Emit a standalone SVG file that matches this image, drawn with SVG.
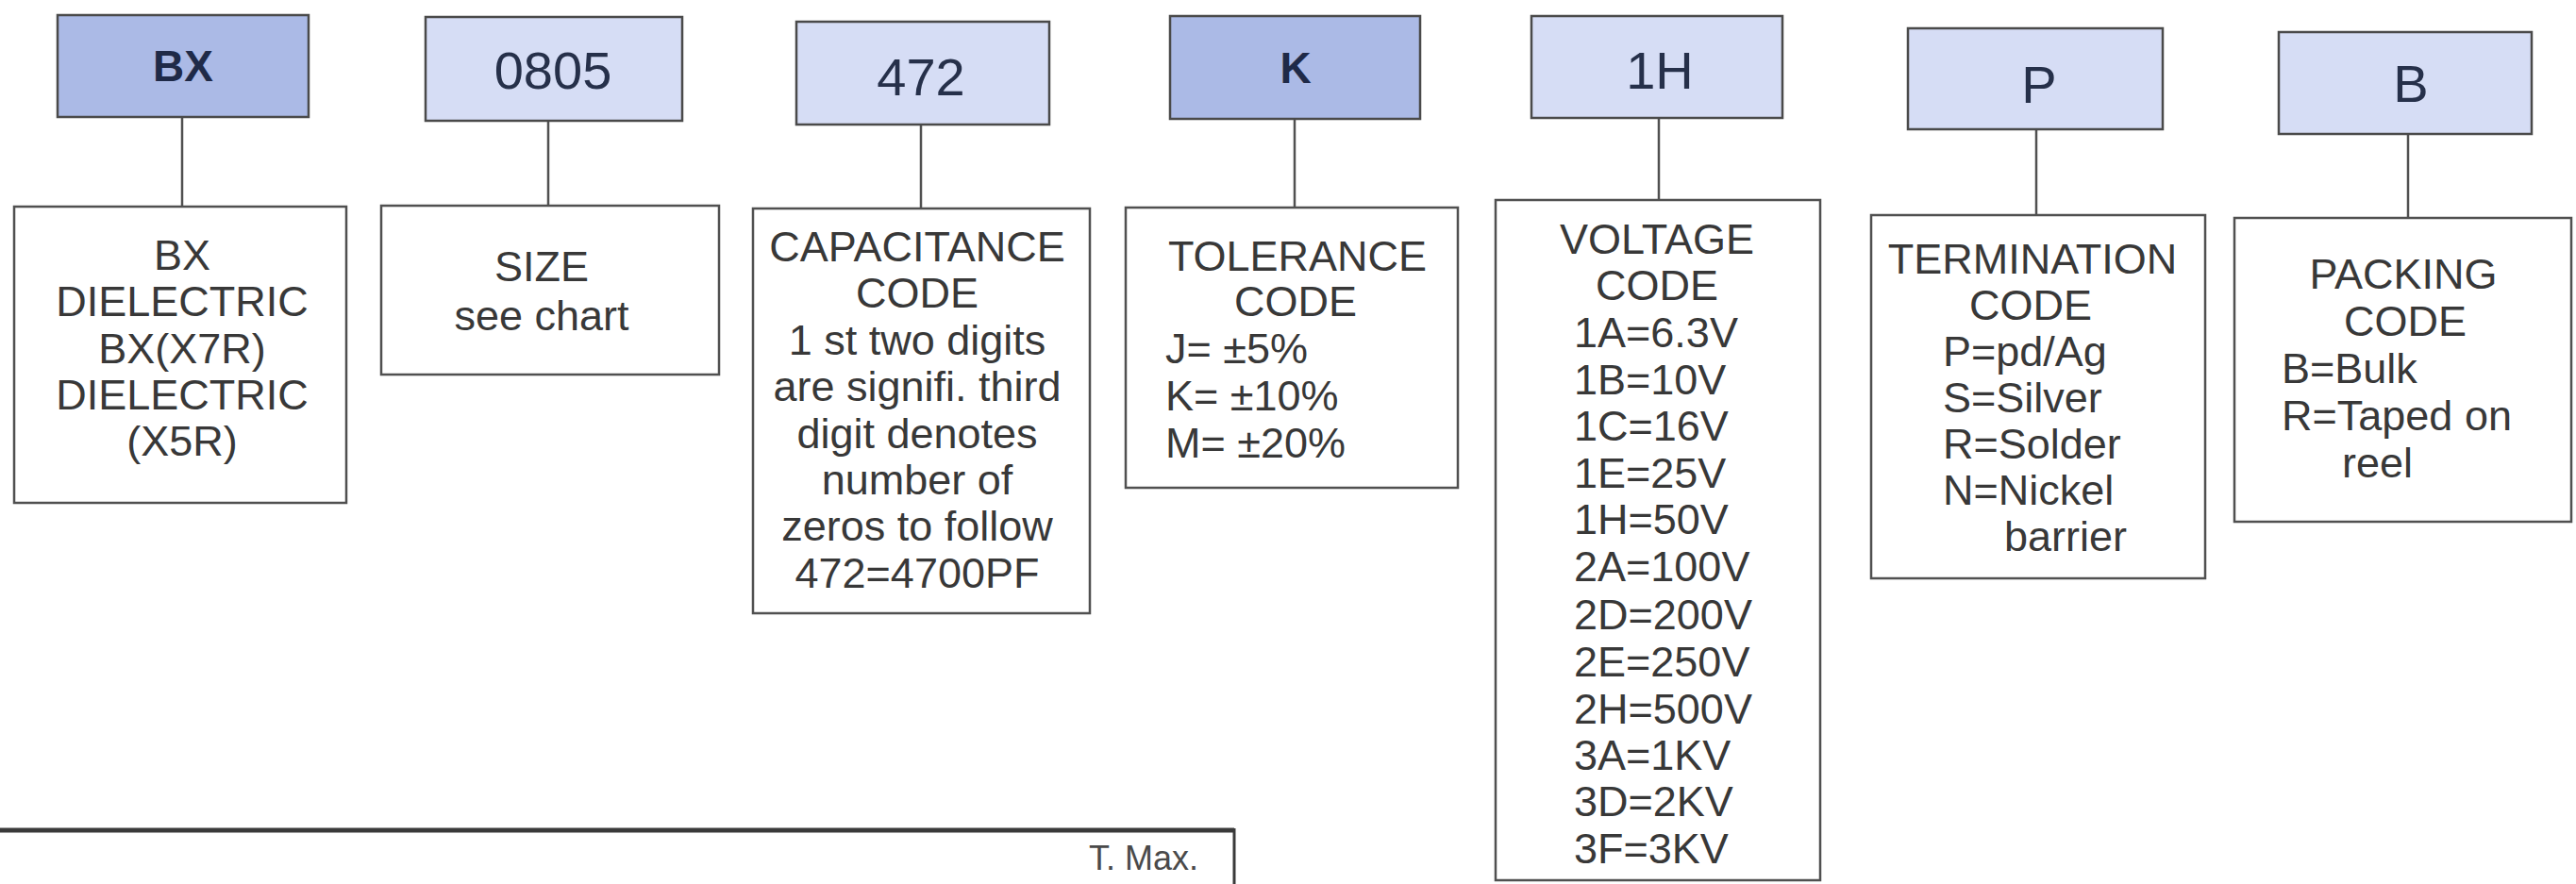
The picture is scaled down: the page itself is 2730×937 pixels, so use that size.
<svg xmlns="http://www.w3.org/2000/svg" width="2730" height="937" viewBox="0 0 2730 937">
<style>
.hdA{fill:#abbae6;stroke:#4a4a4a;stroke-width:2.5}
.hdB{fill:#d6ddf5;stroke:#4a4a4a;stroke-width:2.5}
.det{fill:#ffffff;stroke:#505050;stroke-width:2.5}
.conn line{stroke:#505050;stroke-width:2.5}
.hb{font-family:"Liberation Sans",Arial,sans-serif;font-weight:bold;font-size:46px;fill:#1f2a48;text-anchor:middle}
.hn{font-family:"Liberation Sans",Arial,sans-serif;font-size:56px;fill:#26304a;text-anchor:middle}
.t{font-family:"Liberation Sans",Arial,sans-serif;font-size:45px;fill:#383838}
.c{text-anchor:middle}
.small{font-family:"Liberation Sans",Arial,sans-serif;font-size:36px;fill:#4a4a4a;text-anchor:end}
</style>
<rect width="2730" height="937" fill="#ffffff"/>

<g id="connectors" class="conn">
<line x1="193" y1="124" x2="193" y2="219"/>
<line x1="581" y1="128" x2="581" y2="218"/>
<line x1="976" y1="132" x2="976" y2="221"/>
<line x1="1372" y1="126" x2="1372" y2="220"/>
<line x1="1758" y1="125" x2="1758" y2="212"/>
<line x1="2158" y1="137" x2="2158" y2="228"/>
<line x1="2552" y1="142" x2="2552" y2="231"/>
</g>

<g id="hdr-bx">
<rect class="hdA" x="61" y="16" width="266" height="108"/>
<text class="hb" x="194" y="86">BX</text>
</g>
<g id="det-bx">
<rect class="det" x="15" y="219" width="352" height="314"/>
<text class="t c" x="193" y="286">BX</text>
<text class="t c" x="193" y="335">DIELECTRIC</text>
<text class="t c" x="193" y="385">BX(X7R)</text>
<text class="t c" x="193" y="434">DIELECTRIC</text>
<text class="t c" x="193" y="483">(X5R)</text>
</g>

<g id="hdr-0805">
<rect class="hdB" x="451" y="18" width="272" height="110"/>
<text class="hn" x="586" y="94">0805</text>
</g>
<g id="det-0805">
<rect class="det" x="404" y="218" width="358" height="179"/>
<text class="t c" x="574" y="298">SIZE</text>
<text class="t c" x="574" y="350">see chart</text>
</g>

<g id="hdr-472">
<rect class="hdB" x="844" y="23" width="268" height="109"/>
<text class="hn" x="976" y="101">472</text>
</g>
<g id="det-472">
<rect class="det" x="798" y="221" width="357" height="429"/>
<text class="t c" x="972" y="277">CAPACITANCE</text>
<text class="t c" x="972" y="326">CODE</text>
<text class="t c" x="972" y="376">1 st two digits</text>
<text class="t c" x="972" y="425">are signifi. third</text>
<text class="t c" x="972" y="475">digit denotes</text>
<text class="t c" x="972" y="524">number of</text>
<text class="t c" x="972" y="573">zeros to follow</text>
<text class="t c" x="972" y="623">472=4700PF</text>
</g>

<g id="hdr-k">
<rect class="hdA" x="1240" y="17" width="265" height="109"/>
<text class="hb" x="1373" y="88">K</text>
</g>
<g id="det-k">
<rect class="det" x="1193" y="220" width="352" height="297"/>
<text class="t c" x="1375" y="287">TOLERANCE</text>
<text class="t c" x="1373" y="335">CODE</text>
<text class="t" x="1235" y="385">J= ±5%</text>
<text class="t" x="1235" y="435">K= ±10%</text>
<text class="t" x="1235" y="485">M= ±20%</text>
</g>

<g id="hdr-1h">
<rect class="hdB" x="1623" y="17" width="266" height="108"/>
<text class="hn" x="1759" y="94">1H</text>
</g>
<g id="det-1h">
<rect class="det" x="1585" y="212" width="344" height="721"/>
<text class="t c" x="1756" y="269">VOLTAGE</text>
<text class="t c" x="1756" y="318">CODE</text>
<text class="t" x="1668" y="368">1A=6.3V</text>
<text class="t" x="1668" y="418">1B=10V</text>
<text class="t" x="1668" y="467">1C=16V</text>
<text class="t" x="1668" y="517">1E=25V</text>
<text class="t" x="1668" y="566">1H=50V</text>
<text class="t" x="1668" y="616">2A=100V</text>
<text class="t" x="1668" y="667">2D=200V</text>
<text class="t" x="1668" y="717">2E=250V</text>
<text class="t" x="1668" y="767">2H=500V</text>
<text class="t" x="1668" y="816">3A=1KV</text>
<text class="t" x="1668" y="865">3D=2KV</text>
<text class="t" x="1668" y="915">3F=3KV</text>
</g>

<g id="hdr-p">
<rect class="hdB" x="2022" y="30" width="270" height="107"/>
<text class="hn" x="2161" y="109">P</text>
</g>
<g id="det-p">
<rect class="det" x="1983" y="228" width="354" height="385"/>
<text class="t c" x="2154" y="290">TERMINATION</text>
<text class="t c" x="2152" y="339">CODE</text>
<text class="t" x="2059" y="388">P=pd/Ag</text>
<text class="t" x="2059" y="437">S=Silver</text>
<text class="t" x="2059" y="486">R=Solder</text>
<text class="t" x="2059" y="535">N=Nickel</text>
<text class="t" x="2124" y="584">barrier</text>
</g>

<g id="hdr-b">
<rect class="hdB" x="2415" y="34" width="268" height="108"/>
<text class="hn" x="2555" y="108">B</text>
</g>
<g id="det-b">
<rect class="det" x="2368" y="231" width="357" height="322"/>
<text class="t c" x="2547" y="306">PACKING</text>
<text class="t c" x="2549" y="356">CODE</text>
<text class="t" x="2418" y="406">B=Bulk</text>
<text class="t" x="2418" y="456">R=Taped on</text>
<text class="t" x="2482" y="506">reel</text>
</g>

<g id="table-edge">
<line x1="0" y1="880" x2="1308" y2="880" stroke="#3a3a3a" stroke-width="5"/>
<line x1="1308" y1="878" x2="1308" y2="937" stroke="#3a3a3a" stroke-width="3"/>
<text class="small" x="1270" y="922">T. Max.</text>
</g>
</svg>
